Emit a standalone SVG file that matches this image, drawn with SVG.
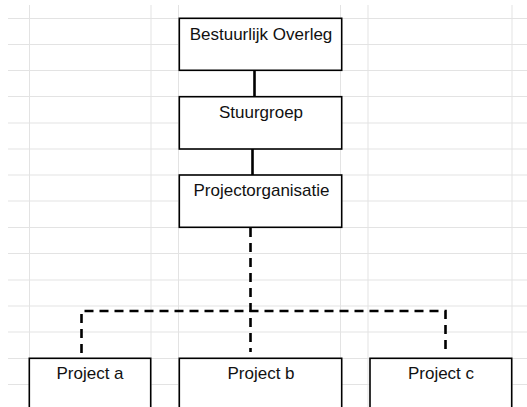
<svg xmlns="http://www.w3.org/2000/svg" width="527" height="407" viewBox="0 0 527 407">
<style>
.grid line{stroke:#e3e3e3;stroke-width:1}
.box{fill:#fff;stroke:#000;stroke-width:1.6}
.lbl{font-family:"Liberation Sans",Arial,sans-serif;font-size:17px;fill:#111;text-anchor:middle}
.solid{stroke:#000;stroke-width:2.6;fill:none}
.dash{stroke:#000;stroke-width:2.6;fill:none;stroke-dasharray:9 6}
</style>
<rect width="527" height="407" fill="#fff"/>
<g class="grid" id="grid">
<line x1="8" y1="18.5" x2="527" y2="18.5"/>
<line x1="8" y1="44.5" x2="527" y2="44.5"/>
<line x1="8" y1="70.5" x2="527" y2="70.5"/>
<line x1="8" y1="96.5" x2="527" y2="96.5"/>
<line x1="8" y1="123" x2="527" y2="123"/>
<line x1="8" y1="149" x2="527" y2="149"/>
<line x1="8" y1="175" x2="527" y2="175"/>
<line x1="8" y1="201" x2="527" y2="201"/>
<line x1="8" y1="227.5" x2="527" y2="227.5"/>
<line x1="8" y1="253.5" x2="527" y2="253.5"/>
<line x1="8" y1="280" x2="527" y2="280"/>
<line x1="8" y1="306" x2="527" y2="306"/>
<line x1="8" y1="332" x2="527" y2="332"/>
<line x1="8" y1="358.5" x2="527" y2="358.5"/>
<line x1="8" y1="384.5" x2="527" y2="384.5"/>
<line x1="29.5" y1="5" x2="29.5" y2="407"/>
<line x1="151" y1="5" x2="151" y2="407"/>
<line x1="178.5" y1="5" x2="178.5" y2="407"/>
<line x1="340.5" y1="5" x2="340.5" y2="407"/>
<line x1="368" y1="5" x2="368" y2="407"/>
<line x1="512" y1="5" x2="512" y2="407"/>
</g>
<g id="connectors">
<line class="solid" x1="254.5" y1="70" x2="254.5" y2="97"/>
<line class="solid" x1="252.5" y1="149" x2="252.5" y2="175"/>
<line class="dash" x1="250.5" y1="228" x2="250.5" y2="352"/>
<polyline class="dash" points="81.5,353 81.5,311 445.5,311 445.5,353"/>
</g>
<g id="n1"><rect class="box" x="179.3" y="18.3" width="162.4" height="52"/><text class="lbl" x="261" y="39.5">Bestuurlijk Overleg</text></g>
<g id="n2"><rect class="box" x="179.3" y="96.7" width="162.4" height="52.3"/><text class="lbl" x="261" y="118.3">Stuurgroep</text></g>
<g id="n3"><rect class="box" x="179.3" y="175" width="162.4" height="52.3"/><text class="lbl" x="261.5" y="196">Projectorganisatie</text></g>
<g id="n4"><rect class="box" x="29.3" y="358.3" width="121.4" height="60"/><text class="lbl" x="90" y="379.3">Project a</text></g>
<g id="n5"><rect class="box" x="179.3" y="358.3" width="162.4" height="60"/><text class="lbl" x="261" y="379.3">Project b</text></g>
<g id="n6"><rect class="box" x="370" y="358.3" width="141.7" height="60"/><text class="lbl" x="441" y="379.3">Project c</text></g>
</svg>
